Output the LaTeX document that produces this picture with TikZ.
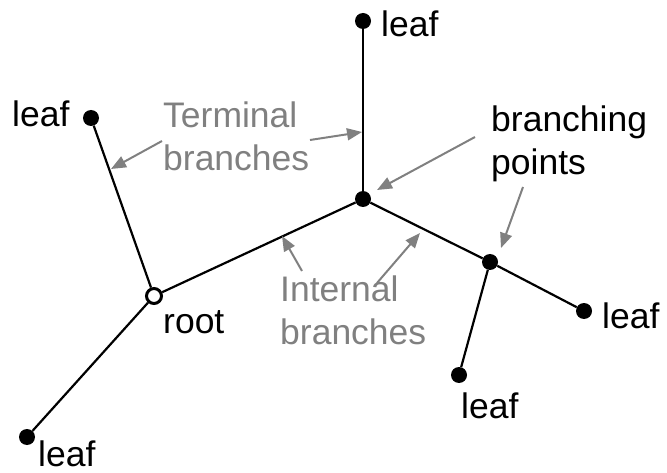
\documentclass[tikz,border=0pt]{standalone}
\usepackage{fontspec}
\setmainfont{Liberation Sans}
\usetikzlibrary{arrows.meta}
\definecolor{notegray}{RGB}{128,128,128}
\tikzset{
  leafdot/.style={circle,fill=black,inner sep=0pt,minimum size=16pt},
  branchdot/.style={circle,fill=black,inner sep=0pt,minimum size=16pt},
  rootdot/.style={circle,draw=black,fill=white,line width=3pt,inner sep=0pt,minimum size=15pt},
  edge/.style={line width=2.2pt,black},
  txt/.style={inner sep=0pt,font=\fontsize{35.5}{43}\selectfont},
  note/.style={txt,text=notegray,align=left},
  pointer/.style={line width=2pt,notegray,-{Triangle[length=15pt,width=12pt]}}
}
\begin{document}
\begin{tikzpicture}[x=1pt,y=-1pt]
\useasboundingbox (0,0) rectangle (667,473);
% tree vertices
\node[leafdot] (ltop) at (363,21) {};
\node[branchdot] (b1) at (363,199) {};
\node[branchdot] (b2) at (490,262) {};
\node[leafdot] (lright) at (584,311) {};
\node[leafdot] (lbr) at (459,375) {};
\node[rootdot] (root) at (154,296) {};
\node[leafdot] (ltl) at (91,118) {};
\node[leafdot] (lbl) at (27,437) {};
% branches
\draw[edge] (ltop) -- (b1);
\draw[edge] (b1) -- (b2);
\draw[edge] (b2) -- (lright);
\draw[edge] (b2) -- (lbr);
\draw[edge] (b1) -- (root);
\draw[edge] (root) -- (ltl);
\draw[edge] (root) -- (lbl);
% vertex labels
\node[txt,anchor=base west] (tltop) at (381,37) {leaf};
\node[txt,anchor=base west] (tltl) at (12,127) {leaf};
\node[txt,anchor=base west] (troot) at (163,334) {root};
\node[txt,anchor=base west] (tlbl) at (38,466) {leaf};
\node[txt,anchor=base west] (tlright) at (602,328) {leaf};
\node[txt,anchor=base west] (tlbr) at (461,418) {leaf};
% annotations
\node[txt,align=left,anchor=north west] (tbranch) at (491,106) {branching\\points};
\node[note,anchor=north west] (tterm) at (163,102) {Terminal\\branches};
\node[note,anchor=north west] (tint) at (280,276) {Internal\\branches};
% annotation arrows
\coordinate (ta1) at (162,141); \coordinate (ha1) at (111,169);
\coordinate (ta2) at (310,140); \coordinate (ha2) at (362,132);
\coordinate (ta3) at (475,137); \coordinate (ha3) at (377,190);
\coordinate (ta4) at (523,187); \coordinate (ha4) at (501,248);
\coordinate (ta5) at (302,271); \coordinate (ha5) at (282,236);
\coordinate (ta6) at (377,283); \coordinate (ha6) at (420,233);
\draw[pointer] (ta1) -- (ha1);
\draw[pointer] (ta2) -- (ha2);
\draw[pointer] (ta3) -- (ha3);
\draw[pointer] (ta4) -- (ha4);
\draw[pointer] (ta5) -- (ha5);
\draw[pointer] (ta6) -- (ha6);
\end{tikzpicture}
\end{document}
